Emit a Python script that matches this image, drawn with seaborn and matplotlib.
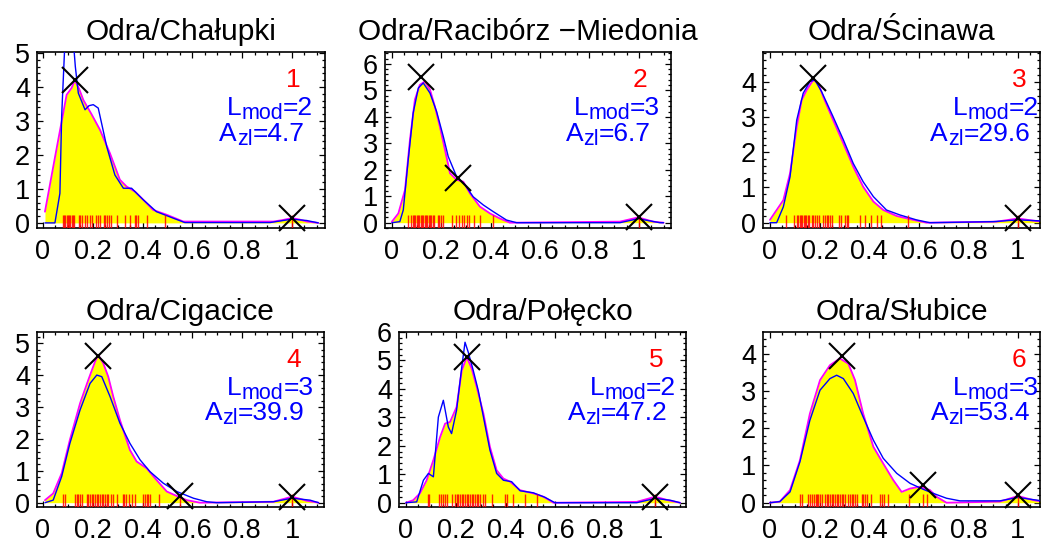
import matplotlib
matplotlib.use("Agg")
import matplotlib.pyplot as plt
import matplotlib.ticker as mticker
from matplotlib.ticker import MultipleLocator
from matplotlib.transforms import offset_copy
import seaborn as sns

sns.set_theme(style="ticks")
plt.rcParams["font.family"] = ["Liberation Sans", "DejaVu Sans"]

# ---------------------------------------------------------------------------
# Data (density curves, rug values, mode markers)
# ---------------------------------------------------------------------------
TITLES = ["Odra/Chałupki", "Odra/Racibórz \u2212Miedonia", "Odra/Ścinawa",
          "Odra/Cigacice", "Odra/Połęcko", "Odra/Słubice"]
L_MOD = [2, 3, 2, 3, 2, 3]
A_ZL = [4.7, 6.7, 29.6, 39.9, 47.2, 53.4]

P1_MAG_X = [0.008, 0.05, 0.095, 0.115, 0.128, 0.145, 0.162, 0.195, 0.229, 0.269, 0.309, 0.336,
            0.37, 0.403, 0.443, 0.497, 0.564, 0.925, 0.96, 1.0, 1.03, 1.06, 1.106]
P1_MAG_Y = [0.33, 2.0, 3.77, 3.97, 4.2, 3.95, 3.62, 3.2, 2.74, 2.05, 1.27, 1.07,
            0.92, 0.68, 0.38, 0.24, 0.04, 0.04, 0.08, 0.14, 0.1, 0.04, 0.0]
P1_BLU_X = [0.008, 0.048, 0.068, 0.075, 0.088, 0.1, 0.115, 0.13, 0.142, 0.169, 0.185, 0.202, 0.222,
            0.256, 0.289, 0.323, 0.356, 0.403, 0.456, 0.523, 0.57, 0.912, 1.0, 1.06, 1.106]
P1_BLU_Y = [0.0, 0.0, 0.87, 3.13, 5.3, 6.2, 6.0, 4.6, 3.82, 3.33, 3.45, 3.48, 3.38,
            2.25, 1.41, 1.02, 1.02, 0.68, 0.33, 0.14, 0.01, 0.01, 0.11, 0.07, 0.0]
P1_RUG = [0.08, 0.085, 0.09, 0.095, 0.1, 0.105, 0.11, 0.115, 0.12, 0.125, 0.145, 0.15, 0.157,
          0.168, 0.175, 0.19, 0.195, 0.215, 0.222, 0.229, 0.245, 0.25, 0.257, 0.264, 0.272,
          0.296, 0.33, 0.35, 0.368, 0.375, 0.383, 0.416, 0.49, 1.0]
P1_MODE_X = [0.128, 1.0]
P1_MODE_Y = [4.2, 0.14]

P2_MAG_X = [0.0, 0.026, 0.053, 0.073, 0.093, 0.113, 0.134, 0.154, 0.174, 0.194, 0.215, 0.235,
            0.262, 0.289, 0.316, 0.356, 0.397, 0.437, 0.478, 0.923, 0.997, 1.058, 1.1]
P2_MAG_Y = [0.04, 0.35, 1.24, 3.13, 4.65, 5.21, 5.34, 5.03, 4.39, 3.64, 2.75, 1.87,
            1.62, 1.55, 1.11, 0.61, 0.35, 0.16, 0.0, 0.04, 0.2, 0.04, 0.0]
P2_BLU_X = [0.0, 0.032, 0.046, 0.066, 0.086, 0.107, 0.127, 0.154, 0.181, 0.208, 0.228, 0.262,
            0.296, 0.329, 0.37, 0.41, 0.464, 0.505, 0.923, 0.997, 1.085, 1.1]
P2_BLU_Y = [0.0, 0.04, 0.48, 2.37, 4.14, 5.09, 5.28, 4.9, 4.2, 3.26, 2.5, 1.74,
            1.43, 0.98, 0.67, 0.42, 0.1, 0.0, 0.0, 0.15, 0.0, 0.0]
P2_RUG = [0.066, 0.076, 0.084, 0.09, 0.095, 0.1, 0.106, 0.111, 0.116, 0.122, 0.127, 0.133,
          0.138, 0.143, 0.149, 0.154, 0.16, 0.165, 0.17, 0.185, 0.192, 0.2, 0.208, 0.242,
          0.258, 0.271, 0.285, 0.292, 0.302, 0.312, 0.332, 0.356, 0.41, 1.0]
P2_MODE_X = [0.116, 0.269, 1.0]
P2_MODE_Y = [5.5, 1.68, 0.23]

P3_MAG_X = [0.0, 0.027, 0.054, 0.081, 0.108, 0.128, 0.148, 0.175, 0.195, 0.215, 0.255, 0.296,
            0.336, 0.376, 0.417, 0.457, 0.511, 0.578, 0.632, 0.914, 1.0, 1.06, 1.097]
P3_MAG_Y = [0.08, 0.36, 0.64, 1.4, 2.72, 3.48, 3.76, 4.05, 3.95, 3.57, 2.91, 2.25,
            1.59, 1.02, 0.6, 0.36, 0.19, 0.08, 0.0, 0.03, 0.12, 0.06, 0.03]
P3_BLU_X = [0.0, 0.027, 0.054, 0.081, 0.108, 0.134, 0.161, 0.181, 0.208, 0.255, 0.296, 0.336,
            0.376, 0.417, 0.47, 0.524, 0.591, 0.645, 0.9, 1.0, 1.097]
P3_BLU_Y = [0.0, 0.0, 0.45, 1.3, 2.91, 3.67, 4.0, 4.05, 3.72, 3.0, 2.35, 1.68,
            1.16, 0.74, 0.36, 0.22, 0.08, 0.0, 0.03, 0.08, 0.05]
P3_RUG = [0.063, 0.097, 0.11, 0.115, 0.12, 0.125, 0.13, 0.136, 0.141, 0.146, 0.152, 0.157,
          0.168, 0.175, 0.182, 0.188, 0.198, 0.215, 0.222, 0.229, 0.236, 0.242, 0.249, 0.278,
          0.286, 0.302, 0.309, 0.316, 0.363, 0.383, 0.406, 0.43, 0.448, 0.555, 1.0]
P3_MODE_X = [0.175, 1.0]
P3_MODE_Y = [4.1, 0.12]

P4_MAG_X = [0.008, 0.041, 0.075, 0.108, 0.149, 0.182, 0.209, 0.222, 0.242, 0.262, 0.282, 0.309,
            0.349, 0.376, 0.416, 0.456, 0.497, 0.537, 0.577, 0.63, 0.925, 1.0, 1.059, 1.106]
P4_MAG_Y = [0.08, 0.29, 0.92, 1.97, 3.12, 3.85, 4.42, 4.63, 4.37, 3.95, 3.33, 2.59,
            1.65, 1.29, 1.08, 0.71, 0.35, 0.21, 0.08, 0.0, 0.03, 0.19, 0.06, 0.0]
P4_BLU_X = [0.008, 0.041, 0.075, 0.108, 0.149, 0.189, 0.216, 0.236, 0.269, 0.309, 0.349, 0.39,
            0.43, 0.483, 0.537, 0.604, 0.657, 0.697, 0.925, 1.0, 1.072, 1.106]
P4_BLU_Y = [0.0, 0.08, 0.82, 1.86, 2.91, 3.74, 4.0, 3.95, 3.33, 2.49, 1.86, 1.34,
            0.97, 0.61, 0.35, 0.14, 0.03, 0.0, 0.03, 0.14, 0.08, 0.0]
P4_RUG = [0.082, 0.088, 0.128, 0.135, 0.141, 0.148, 0.155, 0.175, 0.182, 0.188, 0.195, 0.202,
          0.209, 0.215, 0.222, 0.229, 0.235, 0.242, 0.249, 0.255, 0.262, 0.272, 0.28, 0.296,
          0.32, 0.326, 0.333, 0.347, 0.356, 0.369, 0.403, 0.41, 0.416, 0.423, 0.43, 0.467,
          0.55, 1.0]
P4_MODE_X = [0.222, 0.55, 1.0]
P4_MODE_Y = [4.6, 0.21, 0.19]

P5_MAG_X = [0.0, 0.029, 0.056, 0.083, 0.11, 0.137, 0.157, 0.177, 0.203, 0.224, 0.244, 0.264,
            0.284, 0.311, 0.337, 0.364, 0.391, 0.418, 0.458, 0.511, 0.552, 0.592, 0.926, 1.0,
            1.06, 1.1]
P5_MAG_Y = [0.0, 0.09, 0.33, 0.79, 1.5, 2.31, 2.78, 2.84, 3.36, 4.65, 5.12, 4.71,
            4.07, 3.13, 1.96, 1.14, 0.85, 0.74, 0.44, 0.33, 0.21, 0.0, 0.03, 0.21,
            0.07, 0.0]
P5_BLU_X = [0.0, 0.043, 0.07, 0.09, 0.11, 0.13, 0.15, 0.17, 0.183, 0.203, 0.224, 0.237,
            0.25, 0.27, 0.29, 0.311, 0.337, 0.364, 0.391, 0.424, 0.458, 0.511, 0.558, 0.598,
            0.926, 1.0, 1.06, 1.1]
P5_BLU_Y = [0.0, 0.03, 0.79, 1.03, 0.91, 3.01, 3.6, 2.66, 2.43, 3.25, 4.77, 5.64,
            5.29, 4.65, 3.95, 3.01, 1.85, 1.03, 0.79, 0.74, 0.42, 0.35, 0.19, 0.0,
            0.0, 0.15, 0.09, 0.0]
P5_RUG = [0.087, 0.094, 0.134, 0.14, 0.147, 0.157, 0.163, 0.183, 0.197, 0.204, 0.21, 0.217,
          0.224, 0.23, 0.237, 0.244, 0.25, 0.257, 0.264, 0.27, 0.277, 0.284, 0.29, 0.297,
          0.31, 0.317, 0.344, 0.398, 0.404, 0.431, 0.478, 0.525, 1.0]
P5_MODE_X = [0.244, 1.0]
P5_MODE_Y = [5.12, 0.21]

P6_MAG_X = [0.0, 0.04, 0.081, 0.121, 0.161, 0.202, 0.242, 0.282, 0.316, 0.343, 0.376, 0.417,
            0.457, 0.497, 0.531, 0.565, 0.605, 0.645, 0.672, 0.712, 0.927, 1.0, 1.062, 1.097]
P6_MAG_Y = [0.0, 0.03, 0.34, 1.14, 2.39, 3.29, 3.69, 3.87, 3.73, 3.29, 2.39, 1.5,
            1.05, 0.61, 0.29, 0.38, 0.43, 0.34, 0.16, 0.0, 0.03, 0.18, 0.07, 0.03]
P6_BLU_X = [0.0, 0.04, 0.081, 0.121, 0.161, 0.202, 0.242, 0.269, 0.296, 0.336, 0.376, 0.417,
            0.457, 0.511, 0.565, 0.618, 0.659, 0.712, 0.766, 0.927, 1.0, 1.097]
P6_BLU_Y = [0.0, 0.03, 0.29, 1.1, 2.21, 3.02, 3.33, 3.42, 3.33, 2.93, 2.3, 1.68,
            1.19, 0.79, 0.52, 0.36, 0.25, 0.12, 0.05, 0.05, 0.14, 0.05]
P6_RUG = [0.121, 0.128, 0.155, 0.162, 0.171, 0.178, 0.184, 0.19, 0.195, 0.202, 0.208, 0.222,
          0.229, 0.235, 0.242, 0.249, 0.255, 0.262, 0.269, 0.275, 0.282, 0.289, 0.296, 0.302,
          0.316, 0.323, 0.329, 0.336, 0.343, 0.35, 0.37, 0.376, 0.383, 0.39, 0.407, 0.444,
          0.453, 0.461, 0.477, 0.56, 0.618, 0.632, 1.0]
P6_MODE_X = [0.289, 0.618, 1.0]
P6_MODE_Y = [3.93, 0.47, 0.2]

PANELS = [
    (P1_MAG_X, P1_MAG_Y, P1_BLU_X, P1_BLU_Y, P1_RUG, P1_MODE_X, P1_MODE_Y),
    (P2_MAG_X, P2_MAG_Y, P2_BLU_X, P2_BLU_Y, P2_RUG, P2_MODE_X, P2_MODE_Y),
    (P3_MAG_X, P3_MAG_Y, P3_BLU_X, P3_BLU_Y, P3_RUG, P3_MODE_X, P3_MODE_Y),
    (P4_MAG_X, P4_MAG_Y, P4_BLU_X, P4_BLU_Y, P4_RUG, P4_MODE_X, P4_MODE_Y),
    (P5_MAG_X, P5_MAG_Y, P5_BLU_X, P5_BLU_Y, P5_RUG, P5_MODE_X, P5_MODE_Y),
    (P6_MAG_X, P6_MAG_Y, P6_BLU_X, P6_BLU_Y, P6_RUG, P6_MODE_X, P6_MODE_Y),
]

# ---------------------------------------------------------------------------
# Layout (pixel boxes on a 1042x545 canvas) and axis ranges
# ---------------------------------------------------------------------------
W, H = 1042, 545
BOXES = [(37, 325, 52, 228), (385, 671, 52, 228), (763, 1040, 52, 228),
         (37, 324, 332, 507), (399, 686, 332, 507), (763, 1040, 332, 507)]
XLIMS = [(-0.024, 1.133), (-0.028, 1.13), (-0.028, 1.089),
         (-0.024, 1.128), (-0.028, 1.124), (-0.028, 1.089)]
YLIMS = [(-0.15, 5.03), (-0.2, 6.45), (-0.15, 4.84),
         (-0.135, 5.35), (-0.15, 6.0), (-0.115, 4.58)]

MAIN_FS = 19
SUB_FS = 15.5

fig = plt.figure(figsize=(W / 100, H / 100), dpi=100)
fig.patch.set_facecolor("white")
renderer = fig.canvas.get_renderer()


def sub_label(ax, x, y, base, sub, tail, color):
    """Right-aligned 'base_sub tail' label built from three text pieces."""
    trans = ax.get_xaxis_transform()
    t = ax.text(x, y, tail, transform=trans, ha="right", va="baseline",
                fontsize=MAIN_FS, color=color, clip_on=False)
    w_tail = t.get_window_extent(renderer).width
    s = ax.text(x, y, sub, ha="right", va="baseline", fontsize=SUB_FS, color=color,
                transform=offset_copy(trans, fig=fig, x=-w_tail, y=-4, units="dots"),
                clip_on=False)
    w_sub = s.get_window_extent(renderer).width
    ax.text(x, y, base, ha="right", va="baseline", fontsize=MAIN_FS, color=color,
            transform=offset_copy(trans, fig=fig, x=-w_tail - w_sub, y=0, units="dots"),
            clip_on=False)


for i, (mx, my, bx, by, rug, kx, ky) in enumerate(PANELS):
    l, r, t, b = BOXES[i]
    ax = fig.add_axes([l / W, 1 - b / H, (r - l) / W, (b - t) / H])
    ax.set_facecolor("white")

    ax.fill_between(mx, my, 0, color="#ffff00", lw=0, zorder=1)
    sns.lineplot(x=mx, y=my, ax=ax, color="#ff00ff", lw=1.3, sort=False,
                 estimator=None, zorder=2)
    sns.lineplot(x=bx, y=by, ax=ax, color="#0000ff", lw=1.0, sort=False,
                 estimator=None, zorder=3)
    sns.rugplot(x=rug, ax=ax, height=0.075, color="#ff0000", lw=0.9, alpha=0.85,
                expand_margins=False, zorder=4)
    ax.plot(kx, ky, ls="none", marker="x", ms=19, mew=1.5, color="black",
            zorder=5, clip_on=False)

    ax.set_xlim(*XLIMS[i])
    ax.set_ylim(*YLIMS[i])

    ax.xaxis.set_major_locator(MultipleLocator(0.2))
    ax.xaxis.set_minor_locator(MultipleLocator(0.05))
    ax.yaxis.set_major_locator(MultipleLocator(1))
    ax.yaxis.set_minor_locator(MultipleLocator(0.2))
    ax.xaxis.set_major_formatter(mticker.FuncFormatter(lambda v, p: f"{v:g}"))
    ax.tick_params(which="both", direction="in", top=True, right=True,
                   colors="black", width=0.9)
    ax.tick_params(which="major", length=4, labelsize=MAIN_FS + 0.5)
    ax.tick_params(which="minor", length=2)
    ax.tick_params(axis="x", pad=8)
    ax.tick_params(axis="y", pad=5)
    for s in ax.spines.values():
        s.set_color("black")
        s.set_linewidth(1.2)
    ax.set_xlabel("")
    ax.set_ylabel("")
    ax.set_title(TITLES[i], fontsize=21.5, pad=9, color="black")

    ax.text(1.035, 0.80, str(i + 1), transform=ax.get_xaxis_transform(),
            ha="right", va="baseline", fontsize=MAIN_FS, color="red")
    sub_label(ax, 1.085, 0.64, "L", "mod", f"={L_MOD[i]}", "blue")
    sub_label(ax, 1.05, 0.497, "A", "zl", f"={A_ZL[i]:.1f}", "blue")

fig.savefig("out.png", dpi=100, facecolor="white")
